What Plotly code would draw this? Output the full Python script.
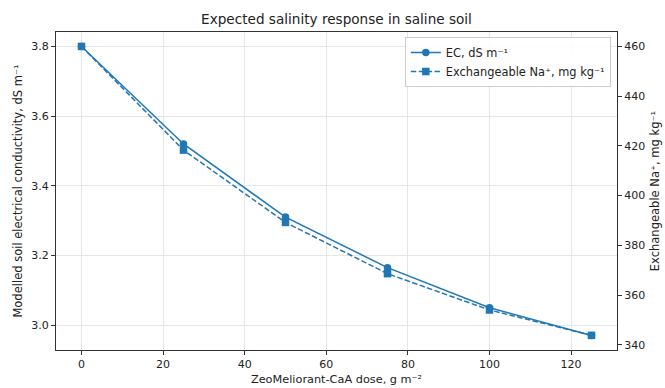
import plotly.graph_objects as go

dose = [0, 25, 50, 75, 100, 125]
ec = [3.80, 3.52, 3.31, 3.165, 3.05, 2.97]
na = [460, 418.3, 389.2, 368.6, 354.0, 343.8]

color = "#1f77b4"
font = "DejaVu Sans"

fig = go.Figure()
fig.add_trace(go.Scatter(
    x=dose, y=ec, name="EC, dS m⁻¹", mode="lines+markers",
    line=dict(color=color, width=1.5),
    marker=dict(symbol="circle", size=7.5, color=color),
    yaxis="y",
))
fig.add_trace(go.Scatter(
    x=dose, y=na, name="Exchangeable Na⁺, mg kg⁻¹", mode="lines+markers",
    line=dict(color=color, width=1.5, dash="5.5px,2.4px"),
    marker=dict(symbol="square", size=7.5, color=color),
    yaxis="y2",
))

axis_common = dict(
    showline=True, linecolor="#333333", linewidth=1,
    ticks="outside", ticklen=4, tickcolor="#333333",
    tickfont=dict(family=font, size=11, color="#222222"),
    zeroline=False, automargin=False,
)

fig.update_layout(
    width=665, height=388,
    margin=dict(l=56, r=48, t=32, b=38, pad=0),
    paper_bgcolor="white", plot_bgcolor="white",
    font=dict(family=font, size=11, color="#222222"),
    title=dict(text="Expected salinity response in saline soil", x=0.5, xanchor="center",
               xref="paper", y=1 - 19 / 388, yref="container", yanchor="middle",
               font=dict(family=font, size=13.6, color="#222222")),
    xaxis=dict(
        **axis_common,
        range=[-6.25, 131.25], tickmode="linear", tick0=0, dtick=20,
        showgrid=True, gridcolor="#e6e6e6", gridwidth=1, mirror=True,
        title=dict(text="ZeoMeliorant-CaA dose, g m⁻²", font=dict(family=font, size=11.3), standoff=4),
    ),
    yaxis=dict(
        **axis_common,
        range=[2.9285, 3.8415], tickmode="linear", tick0=3.0, dtick=0.2, tickformat=".1f",
        showgrid=True, gridcolor="#e6e6e6", gridwidth=1,
        title=dict(text="Modelled soil electrical conductivity, dS m⁻¹", font=dict(family=font, size=11.5), standoff=6),
    ),
    yaxis2=dict(
        **axis_common,
        overlaying="y", side="right",
        range=[337.9, 465.8], tickmode="linear", tick0=340, dtick=20,
        showgrid=False,
        title=dict(text="Exchangeable Na⁺, mg kg⁻¹", font=dict(family=font, size=11.5), standoff=6),
    ),
    legend=dict(
        x=0.989, y=0.984, xanchor="right", yanchor="top",
        bgcolor="rgba(255,255,255,0.85)", bordercolor="#cccccc", borderwidth=1,
        font=dict(family=font, size=11.4, color="#222222"),
        itemwidth=30, tracegroupgap=0,
    ),
    showlegend=True,
)

fig.write_html("out.html", config={"displayModeBar": False},
               post_script="document.body.style.margin='0px';")
